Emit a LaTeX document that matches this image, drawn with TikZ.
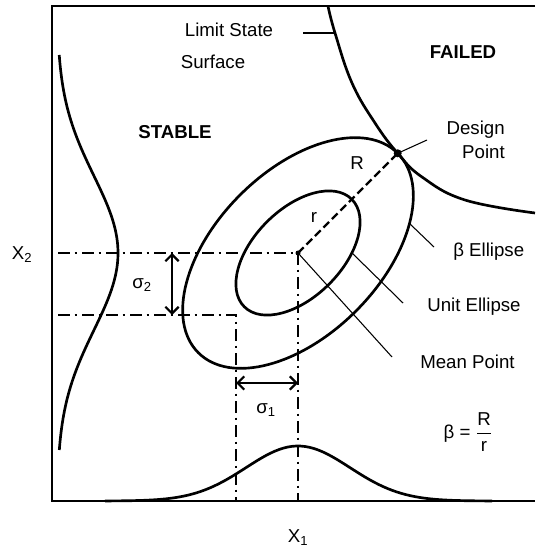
\documentclass[tikz,border=0pt]{standalone}
\usepackage{amsmath}
\usepackage{fontspec}
\setmainfont{Liberation Sans}
\usepackage{tikz}
\usetikzlibrary{arrows.meta, positioning, calc}

\begin{document}
\begin{tikzpicture}[
    x=0.75pt, y=-0.75pt,
    lbl/.style={font=\fontsize{14}{18}\selectfont, inner sep=0pt},
    zone/.style={font=\fontsize{14}{18}\selectfont\bfseries, inner sep=0pt},
    thickcurve/.style={line width=2pt},
    leader/.style={line width=0.8pt},
    refline/.style={line width=1.6pt, dash pattern=on 9pt off 3.5pt on 2pt off 3.5pt},
    rline/.style={line width=1.6pt, dash pattern=on 6pt off 3pt},
    dimarrow/.style={line width=1.6pt, <->, >={Straight Barb[length=5pt, width=10pt]}}
]
\useasboundingbox (0,0) rectangle (535,548);

\coordinate (mean) at (298,253);
\coordinate (design) at (397.7,153.3);
\coordinate (x2ax) at (58,253);
\coordinate (lo2ax) at (58,315);
\coordinate (lo) at (236,315);
\coordinate (x1ax) at (298,501);
\coordinate (lo1ax) at (236,501);
\coordinate (s2top) at (172,253);
\coordinate (s2bot) at (172,315);
\coordinate (s1left) at (236,383);
\coordinate (s1right) at (298,383);
\coordinate (lsStart) at (303,33);
\coordinate (lsHit) at (335,33);
\coordinate (dpEnd) at (427,140);
\coordinate (beStart) at (409.5,223.5);
\coordinate (beEnd) at (434,247);
\coordinate (ueStart) at (352,253);
\coordinate (ueEnd) at (403,303);
\coordinate (mpEnd) at (392,357);

\draw[line width=2.2pt] (535,6) -- (52,6) -- (52,501) -- (535,501);

\draw[thickcurve, rotate around={45:(mean)}] (mean) ellipse [x radius=76, y radius=44];
\draw[thickcurve, rotate around={45:(mean)}] (mean) ellipse [x radius=141, y radius=82];
\draw[thickcurve] plot[smooth, tension=0.7] coordinates {(328,6) (335,33) (352,83) (375,123) (397.7,153.3) (422,177) (465,200) (535,213)};

\draw[thickcurve] plot[domain=55:450, samples=90] ({57+61*exp(-0.5*((\x-253)/77)^2)}, \x);
\draw[thickcurve] plot[domain=105:492, samples=90] (\x, {501-55*exp(-0.5*((\x-298)/52)^2)});

\draw[refline] (x2ax) -- (mean) -- (x1ax);
\draw[refline] (lo2ax) -- (lo) -- (lo1ax);
\draw[rline] (mean) -- (design);

\draw[dimarrow] (s2top) -- (s2bot);
\draw[dimarrow] (s1left) -- (s1right);

\fill (design) circle (4);
\fill (mean) circle (2.5);

\node[lbl] (limit) at (229,30) {Limit State};
\node[lbl] (surface) at (213,62) {Surface};
\node[zone] (stable) at (175,132) {STABLE};
\node[zone] (failed) at (463,52) {FAILED};
\node[lbl, align=right, anchor=east] (dplabel) at (505,140) {Design\\Point};
\node[lbl] (Rlab) at (357,163) {R};
\node[lbl] (rlab) at (314,217) {r};
\node[lbl, anchor=west] (betaell) at (453,252) {β Ellipse};
\node[lbl, anchor=west] (unitell) at (427,307) {Unit Ellipse};
\node[lbl, anchor=west] (meanlab) at (420,362) {Mean Point};
\node[lbl] (formula) at (468,432) {β = $\dfrac{\text{R}}{\text{r}}$};
\node[lbl] (s2lab) at (142,285) {σ\textsubscript{2}};
\node[lbl] (s1lab) at (266,410) {σ\textsubscript{1}};
\node[lbl] (x2lab) at (22,255) {X\textsubscript{2}};
\node[lbl] (x1lab) at (298,538) {X\textsubscript{1}};

\draw[leader] (lsStart) -- (lsHit);
\draw[leader] (design) -- (dpEnd);
\draw[leader] (beStart) -- (beEnd);
\draw[leader] (ueStart) -- (ueEnd);
\draw[leader] (mean) -- (mpEnd);
\end{tikzpicture}
\end{document}
